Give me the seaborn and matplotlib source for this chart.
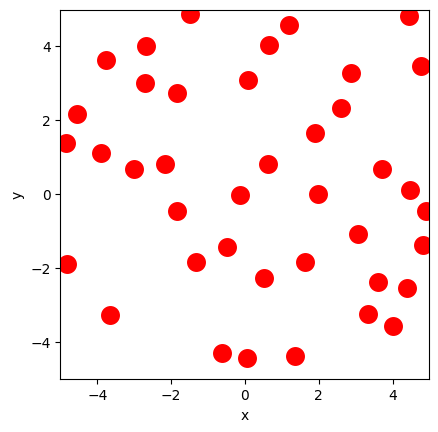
import numpy as np
import pandas as pd
import matplotlib
matplotlib.use("Agg")
import matplotlib.pyplot as plt
import seaborn as sns

x_vals = [-1.48, -2.68, -3.76, -2.71, -1.83, -4.54, -4.84, -3.90, -3.00, -2.17,
          -0.13, -1.83, 0.08, 1.20, 0.66, 4.45, 4.77, 2.88, 2.61, 1.91,
          0.63, 3.72, 1.99, 4.48, 4.91, -0.48, -4.82, -1.32, -3.65, -0.62,
          0.05, 3.07, 4.82, 1.63, 0.52, 3.61, 4.39, 3.34, 4.02, 1.36]
y_vals = [4.87, 4.00, 3.63, 3.00, 2.73, 2.17, 1.38, 1.11, 0.68, 0.81,
          -0.02, -0.46, 3.09, 4.57, 4.03, 4.83, 3.46, 3.28, 2.33, 1.66,
          0.82, 0.70, 0.01, 0.12, -0.45, -1.41, -1.89, -1.84, -3.27, -4.28,
          -4.43, -1.06, -1.38, -1.84, -2.27, -2.38, -2.54, -3.24, -3.55, -4.36]

df = pd.DataFrame({"x": x_vals, "y": y_vals})

fig = plt.figure(figsize=(4.39, 4.32), dpi=100)
ax = fig.add_axes([0.1378, 0.122, 0.8405, 0.856])

sns.scatterplot(data=df, x="x", y="y", color="red", s=220, ax=ax)

ax.set_xlim(-5, 5)
ax.set_ylim(-5, 5)
ax.set_xticks([-4, -2, 0, 2, 4])
ax.set_yticks([-4, -2, 0, 2, 4])

plt.savefig("out.png", dpi=100)
